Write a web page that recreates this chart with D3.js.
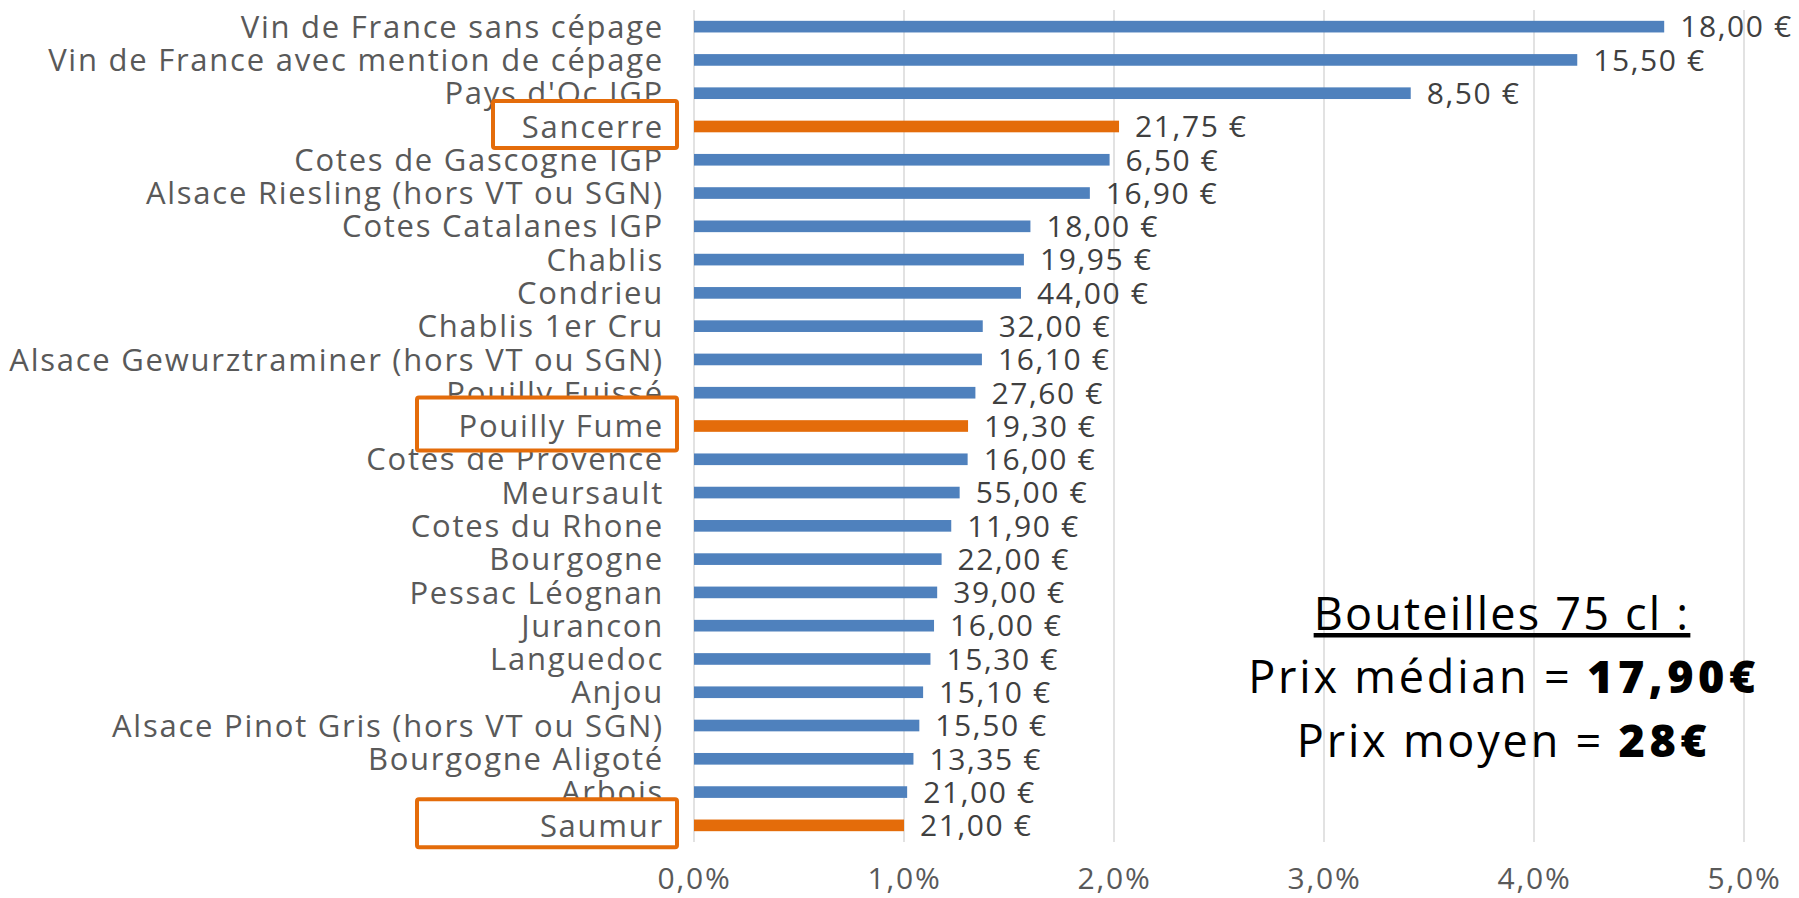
<html lang="fr">
<head>
<meta charset="UTF-8">
<title>Bouteilles 75 cl</title>
<script src="https://d3js.org/d3.v7.min.js"></script>
<style>
  body { margin: 0; background: #fff; }
  text { font-family: "Open Sans", sans-serif; }
</style>
</head>
<body>
<div id="chart"></div>
<script>

// categories top to bottom, share of volume (%) and median price per bottle
const appellations = ["Vin de France sans cépage", "Vin de France avec mention de cépage", "Pays d'Oc IGP",
  "Sancerre", "Cotes de Gascogne IGP", "Alsace Riesling (hors VT ou SGN)", "Cotes Catalanes IGP", "Chablis",
  "Condrieu", "Chablis 1er Cru", "Alsace Gewurztraminer (hors VT ou SGN)", "Pouilly Fuissé", "Pouilly Fume",
  "Cotes de Provence", "Meursault", "Cotes du Rhone", "Bourgogne", "Pessac Léognan", "Jurancon", "Languedoc",
  "Anjou", "Alsace Pinot Gris (hors VT ou SGN)", "Bourgogne Aligoté", "Arbois", "Saumur"];

const shares = [4.620, 4.206, 3.413, 2.024, 1.979, 1.885, 1.602, 1.571, 1.557, 1.375, 1.371, 1.340, 1.305,
  1.303, 1.265, 1.225, 1.179, 1.158, 1.143, 1.126, 1.091, 1.073, 1.045, 1.015, 1.000];

const prices = [18.00, 15.50, 8.50, 21.75, 6.50, 16.90, 18.00, 19.95, 44.00, 32.00, 16.10, 27.60, 19.30,
  16.00, 55.00, 11.90, 22.00, 39.00, 16.00, 15.30, 15.10, 15.50, 13.35, 21.00, 21.00];

const highlighted = ["Sancerre", "Pouilly Fume", "Saumur"];

const xTicks = [0, 1, 2, 3, 4, 5];

const noteTitle = "Bouteilles 75 cl :";
const noteLines = [["Prix médian = ", "17,90€"], ["Prix moyen = ", "28€"]];

const data = appellations.map((name, i) => ({ name: name, share: shares[i], price: prices[i] }));

const fr = d3.formatLocale({ decimal: ",", thousands: " ", grouping: [3], currency: ["", " €"] });
const fmtPrice = fr.format("$.2f");
const fmtTick = d => fr.format(".1f")(d) + "%";

const blue = "#4F81BD", orange = "#E46C0A";

const svg = d3.select("#chart")
  .append("svg")
  .attr("width", 1799)
  .attr("height", 898);

svg.append("rect").attr("width", 1799).attr("height", 898).attr("fill", "#fff");

const x = d3.scaleLinear()
  .domain([0, 5])
  .range([694, 1744]);

const y = d3.scaleBand()
  .domain(appellations)
  .range([10, 842])
  .paddingInner(0.65)
  .paddingOuter(0.325);

// gridlines
svg.append("g")
  .selectAll("line")
  .data(xTicks)
  .join("line")
  .attr("x1", d => x(d)).attr("x2", d => x(d))
  .attr("y1", 10).attr("y2", 842)
  .attr("stroke", "#D9D9D9")
  .attr("stroke-width", 1.5);

// x axis labels
const xAxis = d3.axisBottom(x)
  .tickValues(xTicks)
  .tickFormat(fmtTick)
  .tickSize(0)
  .tickPadding(26);

svg.append("g")
  .attr("transform", "translate(0,842)")
  .call(xAxis)
  .call(g => g.select(".domain").remove())
  .selectAll("text")
  .attr("font-size", 30)
  .attr("letter-spacing", 1.8)
  .attr("fill", "#595959")
  .style("font-family", "'Open Sans', sans-serif");

// bars
svg.append("g")
  .selectAll("rect")
  .data(data)
  .join("rect")
  .attr("x", x(0))
  .attr("y", d => y(d.name))
  .attr("width", d => x(d.share) - x(0))
  .attr("height", y.bandwidth())
  .attr("fill", d => highlighted.includes(d.name) ? orange : blue);

// price labels
svg.append("g")
  .selectAll("text")
  .data(data)
  .join("text")
  .attr("x", d => x(d.share) + 16)
  .attr("y", d => y(d.name) + y.bandwidth() / 2)
  .attr("dy", "0.36em")
  .attr("font-size", 30)
  .attr("letter-spacing", 1.6)
  .attr("fill", "#404040")
  .text(d => fmtPrice(d.price));

// category labels
const labels = svg.append("g");
const catLabel = sel => sel
  .attr("x", 664)
  .attr("y", d => y(d.name) + y.bandwidth() / 2)
  .attr("dy", "0.36em")
  .attr("text-anchor", "end")
  .attr("font-size", 31)
  .attr("letter-spacing", 1.75)
  .attr("fill", "#595959")
  .text(d => d.name);

labels.selectAll("text.cat")
  .data(data.filter(d => !highlighted.includes(d.name)))
  .join("text")
  .attr("class", "cat")
  .call(catLabel);

// orange boxes around the highlighted appellations
const boxLeft = { "Sancerre": 493, "Pouilly Fume": 417, "Saumur": 417 };
const boxH = { "Sancerre": 47, "Pouilly Fume": 53, "Saumur": 48 };

labels.selectAll("rect.box")
  .data(data.filter(d => highlighted.includes(d.name)))
  .join("rect")
  .attr("class", "box")
  .attr("x", d => boxLeft[d.name])
  .attr("y", d => y(d.name) + y.bandwidth() / 2 - 2 - boxH[d.name] / 2)
  .attr("width", d => 677 - boxLeft[d.name])
  .attr("height", d => boxH[d.name])
  .attr("rx", 2)
  .attr("fill", "#fff")
  .attr("stroke", orange)
  .attr("stroke-width", 4);

labels.selectAll("text.hl")
  .data(data.filter(d => highlighted.includes(d.name)))
  .join("text")
  .attr("class", "hl")
  .call(catLabel);

// note on the right
const note = svg.append("g")
  .attr("text-anchor", "middle")
  .attr("font-size", 45)
  .attr("letter-spacing", 2.2)
  .attr("fill", "#000");

note.append("text")
  .attr("x", 1502)
  .attr("y", 630)
  .style("text-decoration", "underline")
  .text(noteTitle);

note.selectAll("text.line")
  .data(noteLines)
  .join("text")
  .attr("class", "line")
  .attr("x", 1504)
  .attr("y", (d, i) => 693 + i * 63.5)
  .attr("letter-spacing", 2.8)
  .each(function(d) {
    d3.select(this).append("tspan").text(d[0]);
    d3.select(this).append("tspan").attr("font-weight", 800).attr("letter-spacing", 4.5).text(d[1]);
  });

</script>
</body>
</html>
